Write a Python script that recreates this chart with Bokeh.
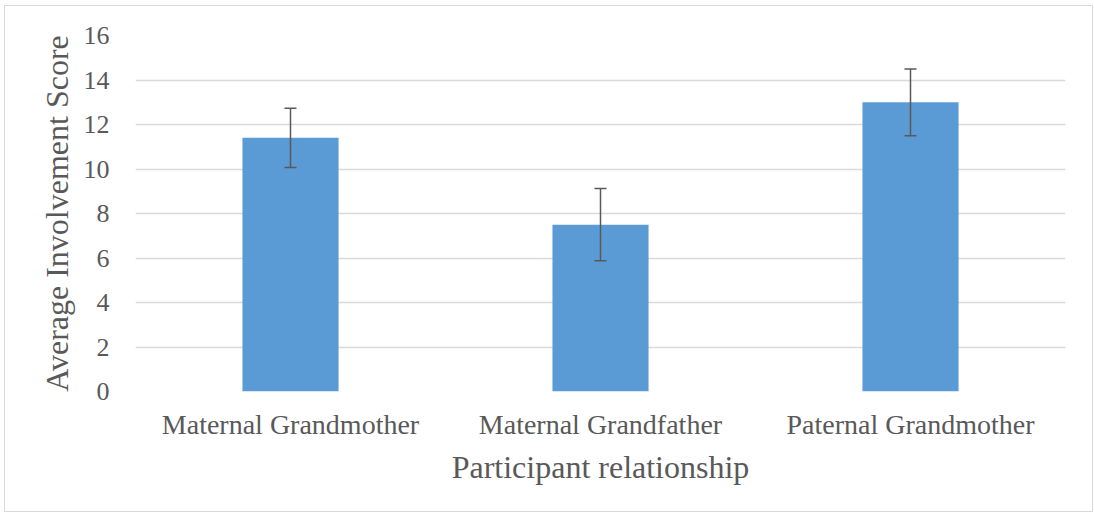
from bokeh.plotting import figure
from bokeh.models import ColumnDataSource, Whisker, FactorRange, Range1d, TeeHead
from bokeh.embed import file_html
from bokeh.resources import INLINE

categories = ["Maternal Grandmother", "Maternal Grandfather", "Paternal Grandmother"]
means = [11.4, 7.5, 13.0]
errors = [1.33, 1.62, 1.5]
y_ticks = [0, 2, 4, 6, 8, 10, 12, 14, 16]

src = ColumnDataSource(dict(
    cat=categories,
    mean=means,
    upper=[m + e for m, e in zip(means, errors)],
    lower=[m - e for m, e in zip(means, errors)],
))

FONT = "Liberation Serif"
TXT = "#595959"

p = figure(
    x_range=FactorRange(*categories, range_padding=0),
    y_range=Range1d(0, 16),
    width=1089, height=507,
    output_backend="svg", toolbar_location=None,
    min_border_left=130, min_border_right=29, min_border_top=29, min_border_bottom=122,
)
p.margin = (5, 1, 2, 4)
p.styles = {"border": "1px solid #d9d9d9", "box-sizing": "border-box"}
p.outline_line_color = None
p.background_fill_color = "white"
p.border_fill_color = "white"

p.vbar(x="cat", top="mean", width=0.31, source=src, fill_color="#5B9BD5", line_color=None)

w = Whisker(base="cat", upper="upper", lower="lower", source=src,
            line_color="#595959", line_width=1.5, level="overlay",
            upper_head=TeeHead(size=12, line_color="#595959", line_width=1.5),
            lower_head=TeeHead(size=12, line_color="#595959", line_width=1.5))
p.add_layout(w)

p.xgrid.grid_line_color = None
p.ygrid.grid_line_color = "#D9D9D9"
p.ygrid.grid_line_width = 1.5
p.yaxis.ticker = y_ticks

for ax in (p.xaxis, p.yaxis):
    ax.axis_line_color = None
    ax.major_tick_line_color = None
    ax.minor_tick_line_color = None
    ax.major_label_text_font = FONT
    ax.major_label_text_color = TXT
    ax.axis_label_text_font = FONT
    ax.axis_label_text_color = TXT
    ax.axis_label_text_font_style = "normal"
    ax.axis_label_text_font_size = "32px"

p.yaxis.major_label_text_font_size = "26px"
p.xaxis.major_label_text_font_size = "28px"
p.yaxis.major_label_standoff = 20
p.xaxis.major_label_standoff = 11
p.yaxis.axis_label = "Average Involvement Score"
p.xaxis.axis_label = "Participant relationship"
p.yaxis.axis_label_standoff = 6
p.xaxis.axis_label_standoff = 6

open("out.html", "w").write(file_html(p, INLINE))
